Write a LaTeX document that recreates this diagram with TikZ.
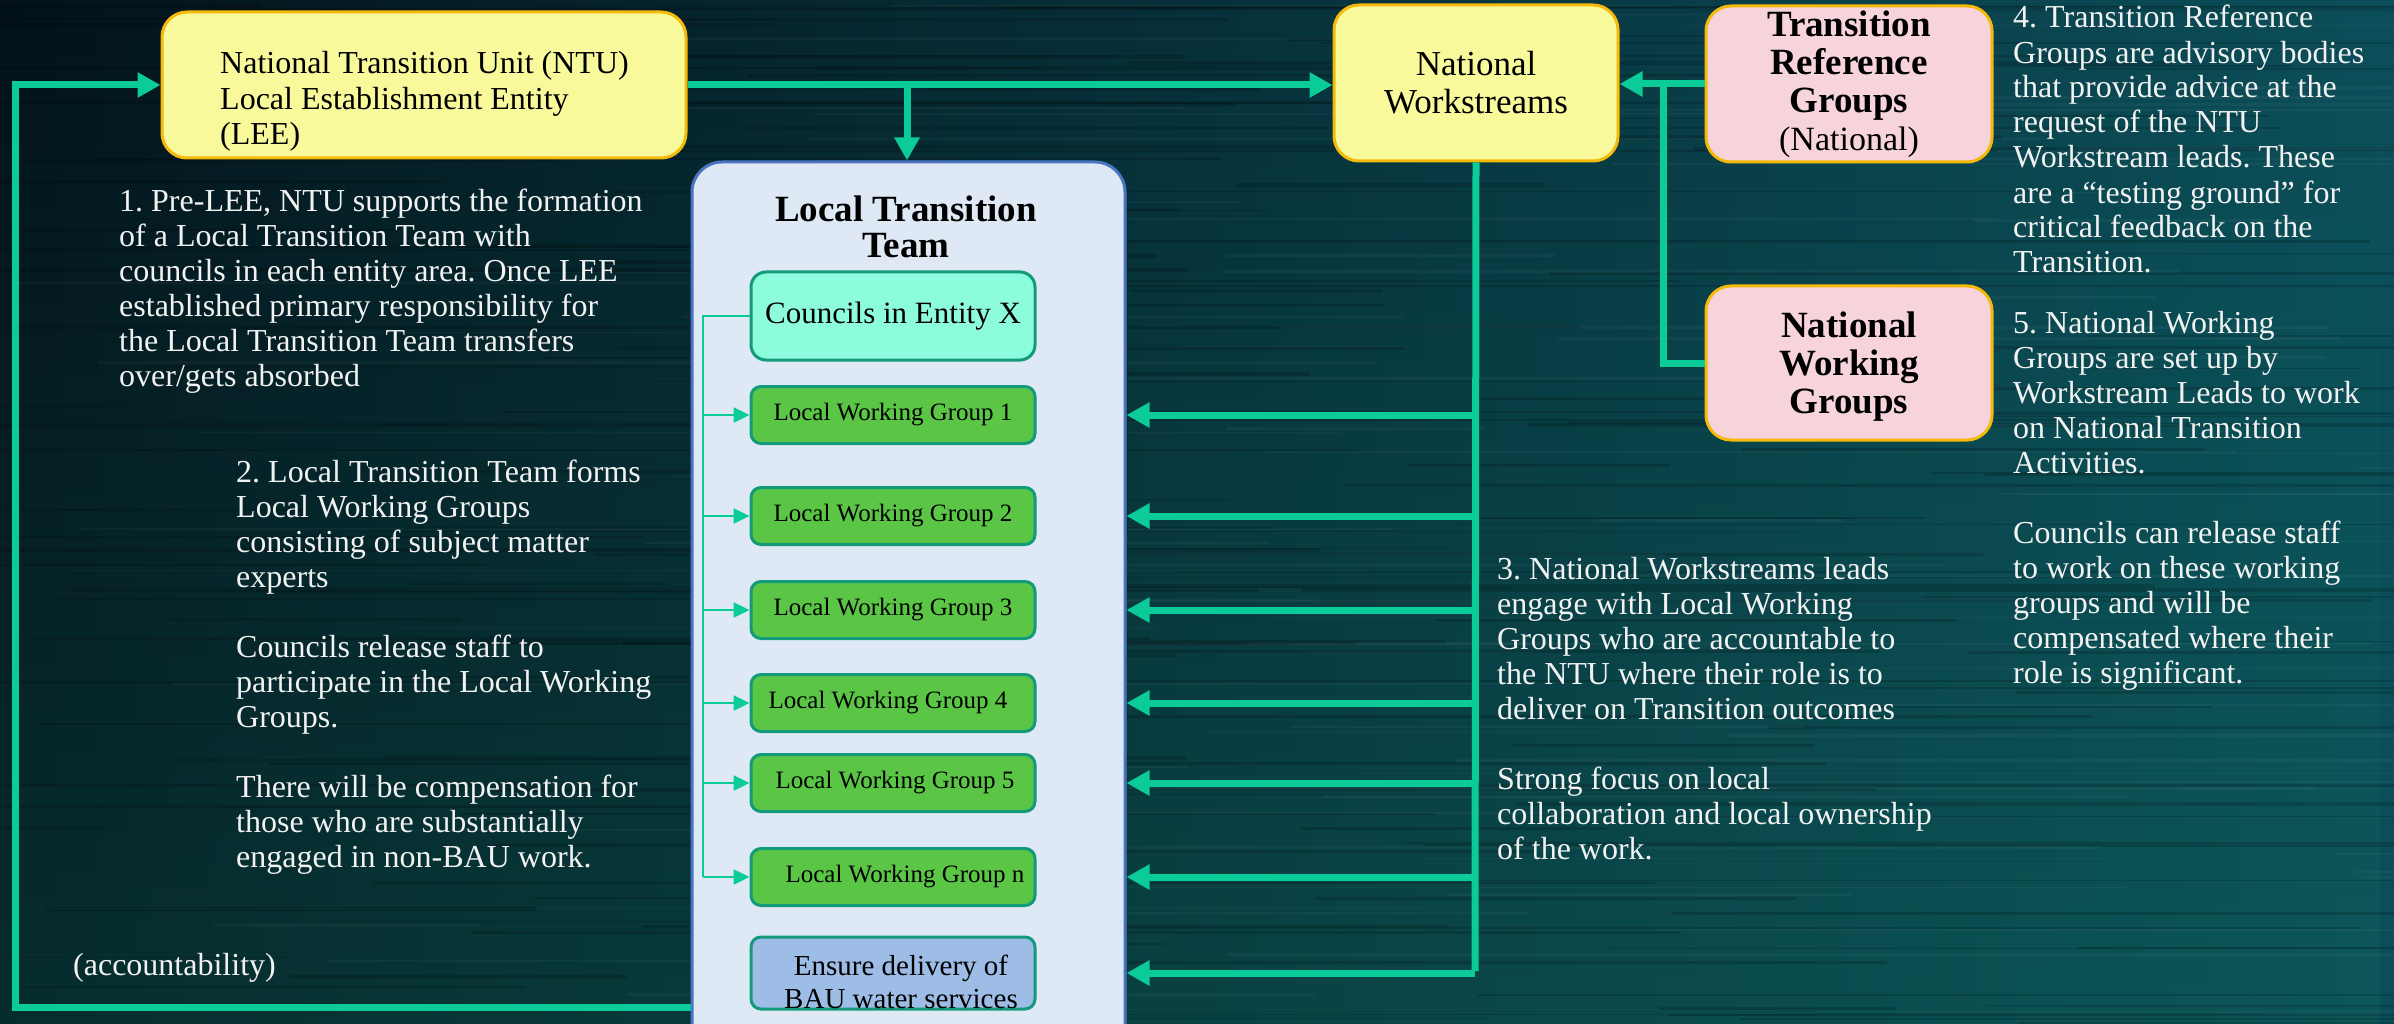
\documentclass[tikz,border=0pt]{standalone}
\usepackage{fontspec}
\setmainfont{Liberation Serif}
\usetikzlibrary{arrows.meta,fadings}
\frenchspacing
\definecolor{flow}{HTML}{0BCB98}
\definecolor{gold}{HTML}{F5B90A}
\definecolor{ylw}{HTML}{F7F99A}
\definecolor{pnk}{HTML}{F7D3DB}
\definecolor{lttfill}{HTML}{DEE9F5}
\definecolor{lttdraw}{HTML}{4A74C0}
\definecolor{cfill}{HTML}{8CFCDD}
\definecolor{gdraw}{HTML}{139A7A}
\definecolor{lwgfill}{HTML}{5BC646}
\definecolor{efill}{HTML}{9DBDE6}
\definecolor{bgL}{HTML}{03121A}
\definecolor{bgR}{HTML}{0B4E59}
\definecolor{bgG}{HTML}{0F6A5A}
\definecolor{txt}{HTML}{F2F2F2}
\tikzfading[name=fadebottom, top color=transparent!100, bottom color=transparent!30]
\begin{document}
\begin{tikzpicture}[x=1pt,y=-1pt,
  flowthick/.style={draw=flow, line width=7pt, -{Triangle[length=23pt,width=24pt]}},
  flowline/.style={draw=flow, line width=7pt},
  flowthin/.style={draw=flow, line width=2.5pt},
  flowthinarrow/.style={draw=flow, line width=2.5pt, -{Triangle[length=16pt,width=15pt]}},
  ybox/.style={draw=gold, line width=3pt, fill=ylw, rounded corners=25pt, inner sep=0pt},
  pbox/.style={draw=gold, line width=3pt, fill=pnk, rounded corners=25pt, inner sep=0pt, align=center,
     minimum width=286pt, font=\fontsize{37}{38}\selectfont\bfseries},
  lttbox/.style={draw=lttdraw, line width=3pt, fill=lttfill, rounded corners=30pt},
  cbox/.style={draw=gdraw, line width=3pt, fill=cfill, rounded corners=15pt, minimum width=284pt,
     minimum height=88pt, inner sep=0pt, font=\fontsize{31}{34}\selectfont},
  lwgbox/.style={draw=gdraw, line width=3pt, fill=lwgfill, rounded corners=10pt, minimum width=284pt,
     minimum height=57pt, inner sep=0pt, font=\fontsize{25}{28}\selectfont},
  ebox/.style={draw=gdraw, line width=3pt, fill=efill, rounded corners=10pt, minimum width=284pt,
     minimum height=72pt, inner sep=0pt},
  bodytext/.style={text=txt, font=\fontsize{32}{35}\selectfont, align=left, anchor=base west, inner sep=0pt},
  darktext/.style={text=black, align=center, inner sep=0pt}
]
\useasboundingbox (0,0) rectangle (2394,1024);
\clip (0,0) rectangle (2394,1024);
% background
\shade[left color=bgL, right color=bgR] (0,0) rectangle (2394,1024);
\fill[bgG, path fading=fadebottom, fill opacity=0.45] (0,0) rectangle (2394,1024);
\pgfmathsetseed{42}
\foreach \i in {1,...,170}{
  \pgfmathsetmacro{\yy}{rnd*1024}
  \pgfmathsetmacro{\xx}{rnd*2394-300}
  \pgfmathsetmacro{\ll}{200+rnd*1400}
  \pgfmathsetmacro{\lw}{1+rnd*3}
  \draw[black, opacity=0.16, line width=\lw pt] (\xx,\yy) -- ++(\ll,0);
}
\foreach \i in {1,...,90}{
  \pgfmathsetmacro{\yy}{rnd*1024}
  \pgfmathsetmacro{\xx}{rnd*2394}
  \pgfmathsetmacro{\ll}{200+rnd*1200}
  \pgfmathsetmacro{\lw}{1+rnd*2}
  \draw[white, opacity=0.035, line width=\lw pt] (\xx,\yy) -- ++(\ll,0);
}

% boxes
\node[ybox, minimum width=524pt, minimum height=146pt] (ntu) at (424,85) {};
\node[bodytext, text=black, font=\fontsize{32}{35.5}\selectfont] (ntut) at (220,145)
  {National Transition Unit (NTU)\\Local Establishment Entity\\(LEE)};
\node[ybox, minimum width=284pt, minimum height=156pt, align=center, font=\fontsize{35}{38}\selectfont]
  (nw) at (1476,83) {National\\Workstreams};
\node[pbox, minimum height=156pt] (trg) at (1849,84)
  {Transition\\Reference\\Groups\\\mdseries\fontsize{34}{38}\selectfont(National)};
\node[pbox, minimum height=154pt] (nwg) at (1849,363) {};
\node[darktext, font=\fontsize{37}{38}\selectfont\bfseries] (nwgt) at (1849,367) {National\\Working\\Groups};

\node[lttbox, minimum width=433pt, minimum height=898pt] (ltt) at (908.5,611) {};
\node[darktext, font=\fontsize{37}{36}\selectfont\bfseries] (lttt) at (906,227) {Local Transition\\Team};
\node[cbox] (cx) at (893,316) {Councils in Entity X};
\node[lwgbox] (g1) at (893,415) {Local Working Group 1};
\node[lwgbox] (g2) at (893,516) {Local Working Group 2};
\node[lwgbox] (g3) at (893,610) {Local Working Group 3};
\node[lwgbox] (g4) at (893,703) {\hspace*{-10pt}Local Working Group 4};
\node[lwgbox] (g5) at (893,783) {\hspace*{4pt}Local Working Group 5};
\node[lwgbox] (gn) at (893,877) {\hspace*{24pt}Local Working Group n};
\node[ebox] (ens) at (893,973) {};
\node[darktext, font=\fontsize{29}{33}\selectfont] (enst) at (901,982) {Ensure delivery of\\BAU water services};

% connectors
\coordinate (loopBL) at (15,1007);
\coordinate (br) at (907,85);
\coordinate (jn) at (1663,84);
\coordinate (nwend) at (1475,971);
\coordinate (spine) at (703,316);
\draw[flowthick] (ltt.west |- loopBL) -- (loopBL) |- (ntu.west);
\draw[flowthick] (ntu.east) -- (nw.west |- ntu.east);
\draw[flowthick] (br) -- (br |- ltt.north);
\draw[flowthick] (trg.west) -- (nw.east |- trg.west);
\draw[flowline] (nwg.west) -| (jn);
\draw[flowline] (nw.south) -- (nwend);
\foreach \t in {g1,g2,g3,g4,g5,gn,ens}{
  \draw[flowthick] (nwend |- \t.east) -- (ltt.east |- \t.east);
}
\draw[flowthin] (cx.west) -- (spine) -- (spine |- gn.west);
\foreach \t in {g1,g2,g3,g4,g5,gn}{
  \draw[flowthinarrow] (spine |- \t.west) -- (\t.west);
}

% texts (anchored at the baseline of the last line)
\node[bodytext] (t1) at (119,386) {1. Pre-LEE, NTU supports the formation\\of a Local Transition Team with\\councils in each entity area. Once LEE\\established primary responsibility for\\the Local Transition Team transfers\\over/gets absorbed};
\node[bodytext] (t2) at (236,867) {2. Local Transition Team forms\\Local Working Groups\\consisting of subject matter\\experts\\[35pt]Councils release staff to\\participate in the Local Working\\Groups.\\[35pt]There will be compensation for\\those who are substantially\\engaged in non-BAU work.};
\node[bodytext] (acc) at (73,975) {(accountability)};
\node[bodytext] (t3) at (1497,859) {3. National Workstreams leads\\engage with Local Working\\Groups who are accountable to\\the NTU where their role is to\\deliver on Transition outcomes\\[35pt]Strong focus on local\\collaboration and local ownership\\of the work.};
\node[bodytext] (t4) at (2013,273) {4. Transition Reference\\Groups are advisory bodies\\that provide advice at the\\request of the NTU\\Workstream leads. These\\are a “testing ground” for\\critical feedback on the\\Transition.};
\node[bodytext] (t5) at (2013,683) {5. National Working\\Groups are set up by\\Workstream Leads to work\\on National Transition\\Activities.\\[35pt]Councils can release staff\\to work on these working\\groups and will be\\compensated where their\\role is significant.};
\end{tikzpicture}
\end{document}
